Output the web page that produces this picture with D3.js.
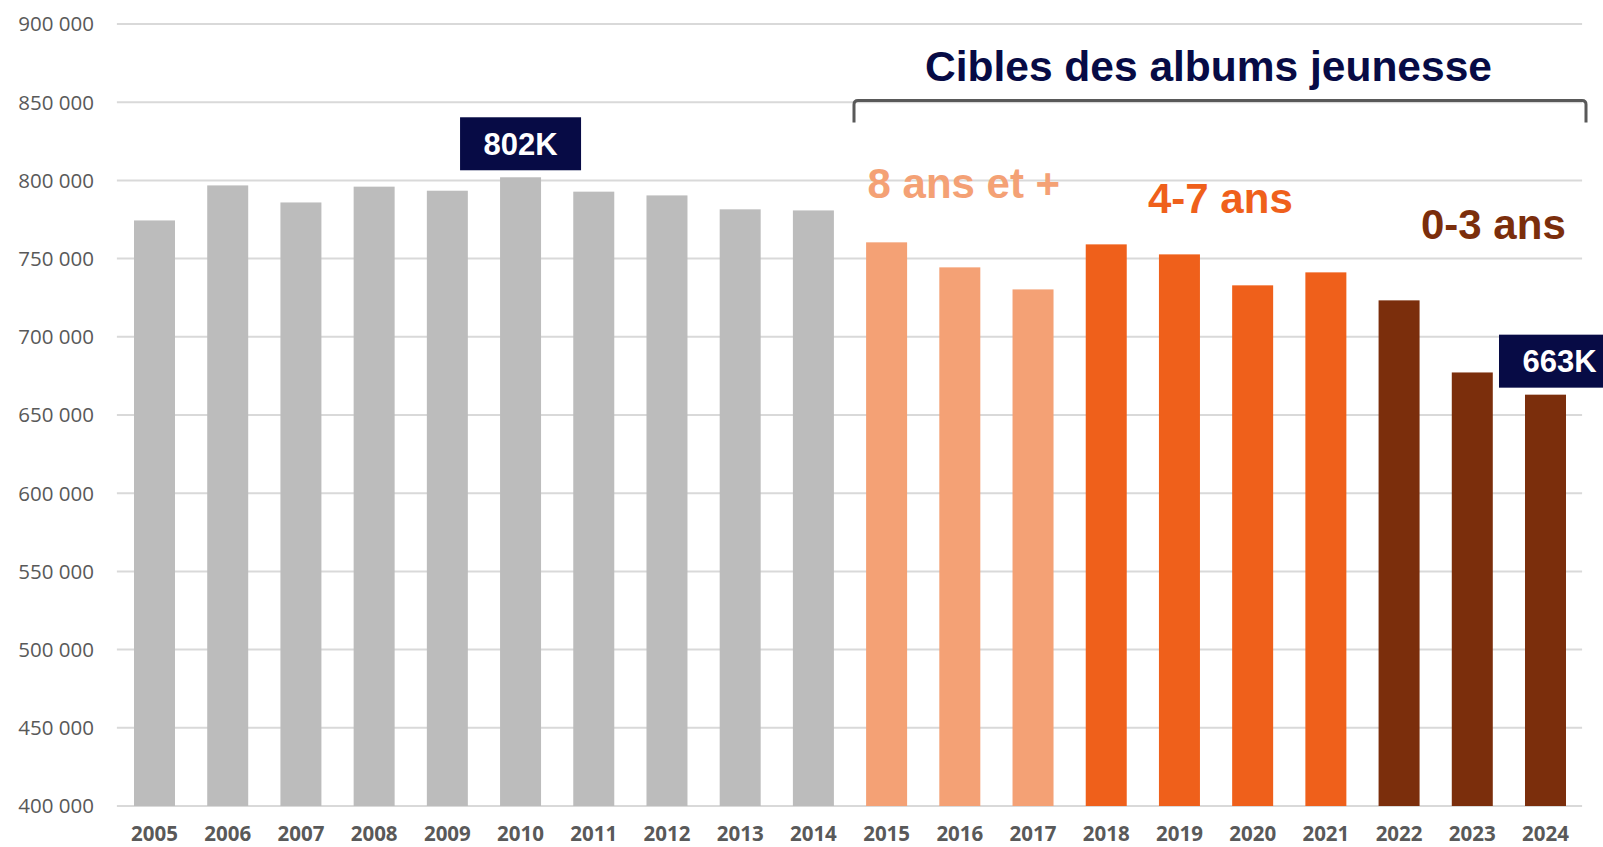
<!DOCTYPE html>
<html lang="fr">
<head>
<meta charset="utf-8">
<script src="https://cdn.jsdelivr.net/npm/d3@7"></script>
<style>
  html, body { margin: 0; padding: 0; background: #ffffff; overflow: hidden; }
  svg { display: block; }
</style>
</head>
<body>
<svg id="chart" width="1603" height="847"></svg>
<script>
// Nombre de titres d'albums jeunesse par année
const years = [2005, 2006, 2007, 2008, 2009, 2010, 2011, 2012, 2013, 2014,
               2015, 2016, 2017, 2018, 2019, 2020, 2021, 2022, 2023, 2024];
const values = [774400, 796800, 785900, 796000, 793400, 802000, 792800, 790400, 781500, 780800,
                760400, 744400, 730300, 759100, 752700, 732900, 741200, 723300, 677200, 663000];
// Tranche d'âge cible associée à chaque année
const targets = ["none", "none", "none", "none", "none", "none", "none", "none", "none", "none",
                 "8+", "8+", "8+", "4-7", "4-7", "4-7", "4-7", "0-3", "0-3", "0-3"];
const targetNames = ["8 ans et +", "4-7 ans", "0-3 ans"];
const targetKeys = ["8+", "4-7", "0-3"];
const yTicks = [400000, 450000, 500000, 550000, 600000, 650000, 700000, 750000, 800000, 850000, 900000];
const callouts = [{ year: 2010, text: "802K" }, { year: 2024, text: "663K" }];
const title = "Cibles des albums jeunesse";

const colors = { "none": "#bcbcbc", "8+": "#f4a175", "4-7": "#ef601b", "0-3": "#7b2e0c" };
const navy = "#070b45";

const svg = d3.select("#chart");
const left = 117.9, right = 1582.1;

const x = d3.scaleBand()
  .domain(years)
  .range([left, right])
  .paddingInner(0.44)
  .paddingOuter(0.22);

const y = d3.scaleLinear()
  .domain([400000, 900000])
  .range([806, 24]);

const fr = d3.formatLocale({ decimal: ",", thousands: " ", grouping: [3], currency: ["", " €"] });
const fmt = fr.format(",d");

// Grille horizontale
svg.append("g")
  .selectAll("line")
  .data(yTicks)
  .join("line")
  .attr("x1", left - 1)
  .attr("x2", right)
  .attr("y1", d => y(d))
  .attr("y2", d => y(d))
  .attr("stroke", "#d9d9d9")
  .attr("stroke-width", 2);

// Axe vertical
const yAxis = svg.append("g")
  .attr("transform", `translate(${left - 24},0)`)
  .call(d3.axisLeft(y).tickValues(yTicks).tickFormat(fmt).tickSize(0).tickPadding(0));
yAxis.select(".domain").remove();
yAxis.selectAll("text")
  .attr("font-family", "'Open Sans', sans-serif")
  .attr("font-size", 20.5)
  .attr("fill", "#595959")
  .attr("dy", "0.34em");

// Axe horizontal
const xAxis = svg.append("g")
  .attr("transform", `translate(0,${y(400000)})`)
  .call(d3.axisBottom(x).tickSize(0).tickPadding(0));
xAxis.select(".domain").remove();
xAxis.selectAll("text")
  .attr("font-family", "'Open Sans', sans-serif")
  .attr("font-weight", "bold")
  .attr("font-size", 20.5)
  .attr("fill", "#595959")
  .attr("dy", "0")
  .attr("y", 35);

// Barres
svg.append("g")
  .selectAll("rect")
  .data(years.map((yr, i) => ({ year: yr, value: values[i], target: targets[i] })))
  .join("rect")
  .attr("x", d => x(d.year))
  .attr("width", x.bandwidth())
  .attr("y", d => y(d.value))
  .attr("height", d => y(400000) - y(d.value))
  .attr("fill", d => colors[d.target]);

// Étiquettes de valeur
const boxW = 121, boxH = 53;
const offsets = { 2010: 0, 2024: 14 };
const cg = svg.append("g")
  .selectAll("g")
  .data(callouts)
  .join("g")
  .attr("transform", d => {
    const i = years.indexOf(d.year);
    const cx = x(d.year) + x.bandwidth() / 2 + offsets[d.year];
    const top = y(values[i]) - 7 - boxH;
    return `translate(${cx},${top})`;
  });
cg.append("rect")
  .attr("x", -boxW / 2)
  .attr("y", 0)
  .attr("width", boxW)
  .attr("height", boxH)
  .attr("fill", navy);
cg.append("text")
  .attr("x", 0)
  .attr("y", 37.5)
  .attr("text-anchor", "middle")
  .attr("font-family", "'Liberation Sans', Arial, sans-serif")
  .attr("font-weight", "bold")
  .attr("font-size", 31)
  .attr("fill", "#ffffff")
  .text(d => d.text);

// Titre et accolade
svg.append("text")
  .attr("x", 925)
  .attr("y", 80.5)
  .attr("font-family", "'Liberation Sans', Arial, sans-serif")
  .attr("font-weight", "bold")
  .attr("font-size", 42.5)
  .attr("fill", navy)
  .text(title);

const bx0 = 854, bx1 = 1586, by0 = 100.5, by1 = 122.5, r = 4;
svg.append("path")
  .attr("d", `M${bx0},${by1} L${bx0},${by0 + r} Q${bx0},${by0} ${bx0 + r},${by0} L${bx1 - r},${by0} Q${bx1},${by0} ${bx1},${by0 + r} L${bx1},${by1}`)
  .attr("fill", "none")
  .attr("stroke", "#595959")
  .attr("stroke-width", 3);

// Libellés des tranches d'âge
const labelPos = [{ x: 867.5, y: 197.7 }, { x: 1148, y: 213.3 }, { x: 1421, y: 239 }];
svg.append("g")
  .selectAll("text")
  .data(targetNames)
  .join("text")
  .attr("x", (d, i) => labelPos[i].x)
  .attr("y", (d, i) => labelPos[i].y)
  .attr("font-family", "'Liberation Sans', Arial, sans-serif")
  .attr("font-weight", "bold")
  .attr("font-size", 42)
  .attr("fill", (d, i) => colors[targetKeys[i]])
  .text(d => d);
</script>
</body>
</html>
